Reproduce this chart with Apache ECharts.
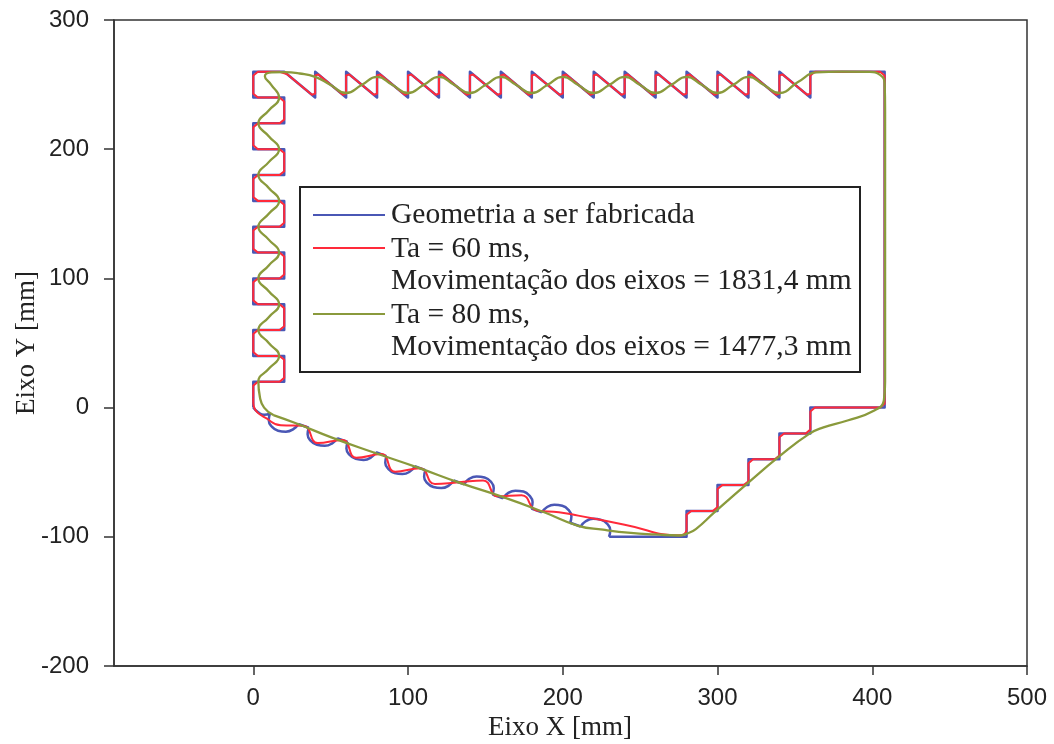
<!DOCTYPE html>
<html>
<head>
<meta charset="utf-8">
<title>Trajetoria</title>
<script src="https://cdn.jsdelivr.net/npm/echarts@6/dist/echarts.min.js"></script>
<style>
  html, body { margin: 0; padding: 0; background: #fff; }
  #chart { width: 1054px; height: 744px; }
</style>
</head>
<body>
<div id="chart"></div>
<script>
// tick labels
const xTicks = [0, 100, 200, 300, 400, 500]
const yTicks = [-200, -100, 0, 100, 200, 300]

// geometria a ser fabricada (azul) - parte reta
const blueOutline = [
  [0, 0], [0, 20], [20, 20], [20, 40], [0, 40], [0, 60], [20, 60], [20, 80], [0, 80], [0, 100],
  [20, 100], [20, 120], [0, 120], [0, 140], [20, 140], [20, 160], [0, 160], [0, 180], [20, 180],
  [20, 200], [0, 200], [0, 220], [20, 220], [20, 240], [0, 240], [0, 260], [20, 260],
  [40, 240], [40, 260], [60, 240], [60, 260], [80, 240], [80, 260], [100, 240], [100, 260],
  [120, 240], [120, 260], [140, 240], [140, 260], [160, 240], [160, 260], [180, 240], [180, 260],
  [200, 240], [200, 260], [220, 240], [220, 260], [240, 240], [240, 260], [260, 240], [260, 260],
  [280, 240], [280, 260], [300, 240], [300, 260], [320, 240], [320, 260], [340, 240], [340, 260],
  [360, 240], [360, 260], [408, 260], [408, 0], [360, 0], [360, -20], [340, -20], [340, -40],
  [320, -40], [320, -60], [300, -60], [300, -80], [280, -80], [280, -100], [230, -100]
]
// trechos retos entre os semicirculos
const blueChords = [
  [29.1, -12.7], [35.9, -15.6], null, [54.2, -23.6], [61.0, -26.5], null,
  [79.3, -34.5], [86.1, -37.5], null, [104.4, -45.4], [111.2, -48.4], null,
  [129.5, -56.4], [136.3, -59.3], null, [154.6, -67.3], [161.4, -70.2], null,
  [179.7, -78.2], [186.5, -81.1], null, [204.8, -89.1], [211.6, -92.0]
]
// semicirculos
const blueArcs = [
  [0, 0], [3, -3.5], [7, -5.6], [10.8, -4.7], null,
  [10.8, -4.7], [10.0, -9.8], [11.9, -14.6], [16.0, -17.9], [21.1, -18.6], [25.9, -16.7], [29.1, -12.7], null,
  [35.9, -15.6], [35.1, -20.7], [37.0, -25.6], [41.1, -28.8], [46.2, -29.6], [51.0, -27.7], [54.2, -23.6], null,
  [61.0, -26.5], [60.2, -31.7], [62.1, -36.5], [66.2, -39.7], [71.3, -40.5], [76.1, -38.6], [79.3, -34.5], null,
  [86.1, -37.5], [85.3, -42.6], [87.2, -47.4], [91.3, -50.6], [96.4, -51.4], [101.2, -49.5], [104.4, -45.4], null,
  [111.2, -48.4], [110.4, -53.5], [112.3, -58.3], [116.4, -61.5], [121.5, -62.3], [126.3, -60.4], [129.5, -56.4], null,
  [136.3, -59.3], [139.5, -55.2], [144.3, -53.3], [149.5, -54.1], [153.5, -57.3], [155.4, -62.2], [154.6, -67.3], null,
  [161.4, -70.2], [164.6, -66.2], [169.4, -64.3], [174.6, -65.0], [178.6, -68.3], [180.5, -73.1], [179.7, -78.2], null,
  [186.5, -81.1], [189.7, -77.1], [194.5, -75.2], [199.7, -76.0], [203.7, -79.2], [205.6, -84.0], [204.8, -89.1], null,
  [211.6, -92.0], [214.8, -88.0], [219.6, -86.1], [224.8, -86.9], [228.8, -90.1], [230.7, -94.9], [229.9, -100.0]
]

// Ta = 60 ms (vermelho)
const redOutline = [
  [0, 8], [0, 17], [3, 20], [17, 20], [20, 23], [20, 37], [17, 40], [3, 40], [0, 43],
  [0, 57], [3, 60], [17, 60], [20, 63], [20, 77], [17, 80], [3, 80], [0, 83],
  [0, 97], [3, 100], [17, 100], [20, 103], [20, 117], [17, 120], [3, 120], [0, 123],
  [0, 137], [3, 140], [17, 140], [20, 143], [20, 157], [17, 160], [3, 160], [0, 163],
  [0, 177], [3, 180], [17, 180], [20, 183], [20, 197], [17, 200], [3, 200], [0, 203],
  [0, 217], [3, 220], [17, 220], [20, 223], [20, 237], [17, 240], [3, 240], [0, 243],
  [0, 257], [3, 260], [17, 260], [22.1, 257.9],
  [37.9, 242.1], [40, 243], [40, 257], [42.1, 257.9], [57.9, 242.1], [60, 243], [60, 257], [62.1, 257.9],
  [77.9, 242.1], [80, 243], [80, 257], [82.1, 257.9], [97.9, 242.1], [100, 243], [100, 257], [102.1, 257.9],
  [117.9, 242.1], [120, 243], [120, 257], [122.1, 257.9], [137.9, 242.1], [140, 243], [140, 257], [142.1, 257.9],
  [157.9, 242.1], [160, 243], [160, 257], [162.1, 257.9], [177.9, 242.1], [180, 243], [180, 257], [182.1, 257.9],
  [197.9, 242.1], [200, 243], [200, 257], [202.1, 257.9], [217.9, 242.1], [220, 243], [220, 257], [222.1, 257.9],
  [237.9, 242.1], [240, 243], [240, 257], [242.1, 257.9], [257.9, 242.1], [260, 243], [260, 257], [262.1, 257.9],
  [277.9, 242.1], [280, 243], [280, 257], [282.1, 257.9], [297.9, 242.1], [300, 243], [300, 257], [302.1, 257.9],
  [317.9, 242.1], [320, 243], [320, 257], [322.1, 257.9], [337.9, 242.1], [340, 243], [340, 257], [342.1, 257.9],
  [357.9, 242.1], [360, 243], [360, 257], [363, 260], [405, 260], [408, 257], [408, 3], [405, 0],
  [363, 0], [360, -3], [360, -17], [357, -20], [343, -20], [340, -23], [340, -37], [337, -40],
  [323, -40], [320, -43], [320, -57], [317, -60], [303, -60], [300, -63], [300, -77], [297, -80],
  [283, -80], [280, -83], [280, -95]
]
const redBottom = [
  [280, -95], [278.6, -97.8], [276, -98.8], [240, -90.6], [210, -83.6], [197.5, -81.0],
  [183.1, -79.6], [173.4, -67.8], [158, -68.7], [148.5, -56.4], [132.9, -57.8], [117.4, -59.2],
  [107.8, -46.9], [91.7, -49.7], [82.7, -36.0], [66.6, -38.8], [57.6, -25.0], [41.7, -27.4],
  [32.5, -14.1], [17.8, -13.7], [8, -8], [2.5, -3.5], [0.3, 1], [0, 5], [0, 8]
]

// Ta = 80 ms (verde)
const greenPath = [
  [13, -5.8], [7, 0], [4.3, 8], [3.3, 20], [10, 30], [16.7, 40], [10, 50], [3.3, 60], [10, 70],
  [16.7, 80], [10, 90], [3.3, 100], [10, 110], [16.7, 120], [10, 130], [3.3, 140], [10, 150],
  [16.7, 160], [10, 170], [3.3, 180], [10, 190], [16.7, 200], [10, 210], [3.3, 220], [10, 230],
  [16.7, 240], [11.5, 250], [7.5, 256.5], [12, 259.4], [20, 259.6], [30, 258.6],
  [40, 256], [50, 249.7], [60, 243.5], [70, 249.7], [80, 256], [90, 249.7], [100, 243.5],
  [110, 249.7], [120, 256], [130, 249.7], [140, 243.5], [150, 249.7], [160, 256], [170, 249.7],
  [180, 243.5], [190, 249.7], [200, 256], [210, 249.7], [220, 243.5], [230, 249.7], [240, 256],
  [250, 249.7], [260, 243.5], [270, 249.7], [280, 256], [290, 249.7], [300, 243.5], [310, 249.7],
  [320, 256], [330, 249.7], [340, 243.5], [352, 252], [364, 259.4], [380, 260], [398, 259.8],
  [405, 257.5], [408, 251], [408.3, 230], [408.3, 20], [407.5, 5.6], [401, -2.5], [384, -10],
  [368, -15.5], [359, -20.5], [340.7, -37], [319.2, -58.8], [297.6, -81.5], [286, -94],
  [280.3, -97.5], [275, -99], [260, -98.2], [244, -97], [226, -94.5], [210, -91.5], [188, -81],
  [162, -69.5], [134, -58.5], [106, -46.3], [76, -34], [50, -22.8], [28, -12.3], [13, -5.8]
]

const legendRows = [
  'Geometria a ser fabricada',
  'Ta = 60 ms,',
  'Movimentação dos eixos = 1831,4 mm',
  'Ta = 80 ms,',
  'Movimentação dos eixos = 1477,3 mm'
]

const BLUE = '#4a57b5'
const RED = '#ff2a3a'
const GREEN = '#8a9a3c'

function lineSeries(data, color, width, smooth) {
  return {
    type: 'line',
    data: data,
    smooth: smooth,
    symbol: 'none',
    connectNulls: false,
    silent: true,
    lineStyle: { color: color, width: width, join: 'round' }
  }
}

const chart = echarts.init(document.getElementById('chart'))
const serif = 'Liberation Serif, Times New Roman, serif'
const rowY = [215, 249, 281, 315, 347]

const graphics = [
  { type: 'rect', shape: { x: 300, y: 187, width: 560, height: 185 },
    style: { fill: '#fff', stroke: '#222', lineWidth: 2 }, z: 100 },
  { type: 'line', shape: { x1: 313, y1: 215, x2: 385, y2: 215 }, style: { stroke: BLUE, lineWidth: 2 }, z: 101 },
  { type: 'line', shape: { x1: 313, y1: 248, x2: 385, y2: 248 }, style: { stroke: RED, lineWidth: 2 }, z: 101 },
  { type: 'line', shape: { x1: 313, y1: 314, x2: 385, y2: 314 }, style: { stroke: GREEN, lineWidth: 2 }, z: 101 },
  { type: 'text', x: 560, y: 728, z: 101,
    style: { text: 'Eixo X [mm]', font: '27px ' + serif, fill: '#222', align: 'center', verticalAlign: 'middle' } },
  { type: 'text', x: 27, y: 343, rotation: Math.PI / 2, z: 101,
    style: { text: 'Eixo Y [mm]', font: '27px ' + serif, fill: '#222', align: 'center', verticalAlign: 'middle' } }
]
legendRows.forEach(function(t, i) {
  graphics.push({ type: 'text', x: 391, y: rowY[i], z: 101,
    style: { text: t, font: '29.5px ' + serif, fill: '#222', verticalAlign: 'middle' } })
})

chart.setOption({
  animation: false,
  backgroundColor: '#fff',
  grid: { left: 114, right: 27, top: 20, bottom: 78, show: true, borderColor: '#333', borderWidth: 1.5 },
  xAxis: {
    type: 'value',
    min: -90,
    max: 500,
    axisLine: { show: true, onZero: false, lineStyle: { color: '#333', width: 1.5 } },
    axisTick: { show: true, length: 9, customValues: xTicks, lineStyle: { color: '#333', width: 1.5 } },
    axisLabel: { customValues: xTicks, margin: 20, color: '#222', fontSize: 24, fontFamily: 'Liberation Sans, Arial, sans-serif' },
    splitLine: { show: false }
  },
  yAxis: {
    type: 'value',
    min: yTicks[0],
    max: yTicks[yTicks.length - 1],
    interval: 100,
    axisLine: { show: true, onZero: false, lineStyle: { color: '#333', width: 1.5 } },
    axisTick: { show: true, length: 10, lineStyle: { color: '#333', width: 1.5 } },
    axisLabel: { margin: 25, color: '#222', fontSize: 24, fontFamily: 'Liberation Sans, Arial, sans-serif' },
    splitLine: { show: false }
  },
  graphic: graphics,
  series: [
    lineSeries(blueOutline, BLUE, 2.5, false),
    lineSeries(blueChords, BLUE, 2.5, false),
    lineSeries(blueArcs, BLUE, 2.5, 0.5),
    lineSeries(redOutline, RED, 2, false),
    lineSeries(redBottom, RED, 2, 0.5),
    lineSeries(greenPath, GREEN, 2.3, 0.5)
  ]
})
</script>
</body>
</html>
